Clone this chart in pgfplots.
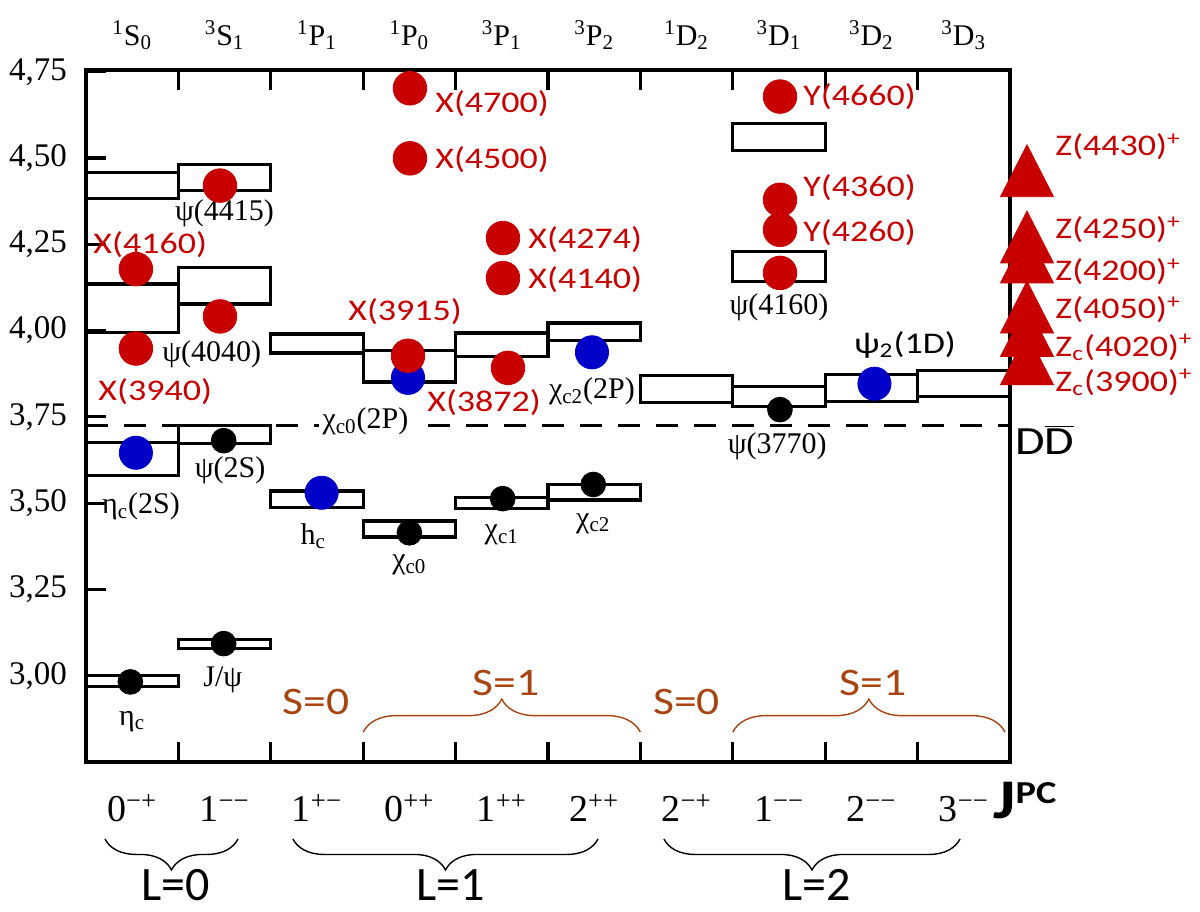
\documentclass[border=0pt]{standalone}
\usepackage{fontspec}
\setmainfont{Liberation Serif}
\newfontfamily\calib{Carlito}
\usepackage{graphicx}
\usepackage{pgfplots}
\pgfplotsset{compat=1.18}
\usetikzlibrary{decorations.pathreplacing}
\definecolor{myred}{RGB}{200,0,0}
\definecolor{myblue}{RGB}{0,0,200}
\definecolor{mybrown}{RGB}{168,68,16}
\newcommand{\fs}[1]{\fontsize{#1}{#1}\selectfont}
\newcommand{\redlab}[1]{\scalebox{1.2}[1]{\calib\fs{15}#1}}
\newcommand{\slab}[1]{\scalebox{1.17}[1]{\calib\fs{19.5}#1}}
\newcommand{\tl}[2]{\textsuperscript{#1}#2}
\tikzset{
  toplab/.style={font=\fs{15}, inner sep=0pt},
  botlab/.style={font=\fs{19}, inner sep=0pt, anchor=base},
  plab/.style={font=\fs{15}, inner sep=0pt},
  rlab/.style={inner sep=0pt, anchor=west, text=myred},
}
\begin{document}
\begin{tikzpicture}
\begin{axis}[
  scale only axis, width=462pt, height=346pt,
  xmin=0, xmax=10, ymin=2.75, ymax=4.755,
  clip=false,
  axis line style={line width=1.6pt},
  every tick/.style={black, line width=1.6pt},
  major tick length=10pt,
  xtick={1,2,3,4,5,6,7,8,9}, xticklabels={},
  ytick={3,3.25,3.5,3.75,4,4.25,4.5,4.75},
  yticklabels={{3,00},{3,25},{3,50},{3,75},{4,00},{4,25},{4,50},{4,75}},
  ytick pos=left,
  yticklabel style={font=\fs{16.5}, xshift=-6pt},
  boxst/.style={black, line width=1.6pt, line join=miter, mark=none},
]
% threshold D Dbar
\addplot[black, line width=1.5pt, dash pattern=on 11pt off 8pt, mark=none] coordinates {(0,3.724) (10,3.724)};
% level boxes
\addplot[boxst] coordinates {(0,2.969) (1,2.969) (1,3.000) (0,3.000)} -- cycle;
\addplot[boxst] coordinates {(0,3.580) (1,3.580) (1,3.675) (0,3.675)} -- cycle;
\addplot[boxst] coordinates {(0,3.995) (1,3.995) (1,4.135) (0,4.135)} -- cycle;
\addplot[boxst] coordinates {(0,4.382) (1,4.382) (1,4.459) (0,4.459)} -- cycle;
\addplot[boxst] coordinates {(1,3.079) (2,3.079) (2,3.106) (1,3.106)} -- cycle;
\addplot[boxst] coordinates {(1,3.672) (2,3.672) (2,3.726) (1,3.726)} -- cycle;
\addplot[boxst] coordinates {(1,4.077) (2,4.077) (2,4.183) (1,4.183)} -- cycle;
\addplot[boxst] coordinates {(1,4.405) (2,4.405) (2,4.482) (1,4.482)} -- cycle;
\addplot[boxst] coordinates {(2,3.487) (3,3.487) (3,3.535) (2,3.535)} -- cycle;
\addplot[boxst] coordinates {(2,3.935) (3,3.935) (3,3.990) (2,3.990)} -- cycle;
\addplot[boxst] coordinates {(3,3.402) (4,3.402) (4,3.448) (3,3.448)} -- cycle;
\addplot[boxst] coordinates {(3,3.851) (4,3.851) (4,3.942) (3,3.942)} -- cycle;
\addplot[boxst] coordinates {(4,3.484) (5,3.484) (5,3.516) (4,3.516)} -- cycle;
\addplot[boxst] coordinates {(4,3.924) (5,3.924) (5,3.993) (4,3.993)} -- cycle;
\addplot[boxst] coordinates {(5,3.509) (6,3.509) (6,3.554) (5,3.554)} -- cycle;
\addplot[boxst] coordinates {(5,3.971) (6,3.971) (6,4.022) (5,4.022)} -- cycle;
\addplot[boxst] coordinates {(6,3.792) (7,3.792) (7,3.870) (6,3.870)} -- cycle;
\addplot[boxst] coordinates {(7,3.781) (8,3.781) (8,3.839) (7,3.839)} -- cycle;
\addplot[boxst] coordinates {(7,4.142) (8,4.142) (8,4.229) (7,4.229)} -- cycle;
\addplot[boxst] coordinates {(7,4.521) (8,4.521) (8,4.601) (7,4.601)} -- cycle;
\addplot[boxst] coordinates {(8,3.795) (9,3.795) (9,3.872) (8,3.872)} -- cycle;
\addplot[boxst] coordinates {(9,3.808) (10,3.808) (10,3.885) (9,3.885)} -- cycle;
% black dots (established states)
\addplot[only marks, mark=*, black, mark size=6.2pt] coordinates {
 (0.48,2.982) (1.49,3.093) (1.49,3.681) (3.50,3.414) (4.51,3.513) (5.49,3.554) (7.51,3.771)};
% blue dots
\addplot[only marks, mark=*, color=myblue, mark size=8.3pt] coordinates {
 (0.54,3.646) (2.55,3.530) (3.485,3.863) (5.476,3.937) (8.533,3.846)};
% red dots
\addplot[only marks, mark=*, color=myred, mark size=8.4pt] coordinates {
 (0.54,4.178) (0.54,3.948) (1.45,4.420) (1.45,4.041) (3.506,4.702) (3.506,4.499)
 (3.485,3.927) (4.513,4.268) (4.513,4.152) (4.567,3.892)
 (7.511,4.678) (7.511,4.379) (7.511,4.292) (7.511,4.167)};
% red triangles (charged Z states)
\addplot[only marks, mark=triangle*, color=myred, mark size=15.3pt, mark options={yscale=1.13}] coordinates {
 (10.184,4.438) (10.184,4.246) (10.184,4.188) (10.184,4.043) (10.184,3.975) (10.184,3.893)};

% top spectroscopic labels
\node[toplab] at (axis cs:0.5,4.856) {\tl{1}{S}\textsubscript{0}};
\node[toplab] at (axis cs:1.5,4.856) {\tl{3}{S}\textsubscript{1}};
\node[toplab] at (axis cs:2.5,4.856) {\tl{1}{P}\textsubscript{1}};
\node[toplab] at (axis cs:3.5,4.856) {\tl{1}{P}\textsubscript{0}};
\node[toplab] at (axis cs:4.5,4.856) {\tl{3}{P}\textsubscript{1}};
\node[toplab] at (axis cs:5.5,4.856) {\tl{3}{P}\textsubscript{2}};
\node[toplab] at (axis cs:6.5,4.856) {\tl{1}{D}\textsubscript{2}};
\node[toplab] at (axis cs:7.5,4.856) {\tl{3}{D}\textsubscript{1}};
\node[toplab] at (axis cs:8.5,4.856) {\tl{3}{D}\textsubscript{2}};
\node[toplab] at (axis cs:9.5,4.856) {\tl{3}{D}\textsubscript{3}};
% bottom J^PC labels
\node[botlab] at (axis cs:0.5,2.577) {0\textsuperscript{−+}};
\node[botlab] at (axis cs:1.5,2.577) {1\textsuperscript{−−}};
\node[botlab] at (axis cs:2.5,2.577) {1\textsuperscript{+−}};
\node[botlab] at (axis cs:3.5,2.577) {0\textsuperscript{++}};
\node[botlab] at (axis cs:4.5,2.577) {1\textsuperscript{++}};
\node[botlab] at (axis cs:5.5,2.577) {2\textsuperscript{++}};
\node[botlab] at (axis cs:6.5,2.577) {2\textsuperscript{−+}};
\node[botlab] at (axis cs:7.5,2.577) {1\textsuperscript{−−}};
\node[botlab] at (axis cs:8.5,2.577) {2\textsuperscript{−−}};
\node[botlab] at (axis cs:9.5,2.577) {3\textsuperscript{−−}};
\node[inner sep=0pt, anchor=base west] at (axis cs:9.816,2.585)
  {\scalebox{1.2}[1]{\calib\bfseries\fs{28}J\raisebox{7.5pt}{\fs{16}PC}}};

% black particle labels
\node[plab] at (axis cs:0.50,2.868) {η\textsubscript{c}};
\node[plab] at (axis cs:1.48,2.987) {J/ψ};
\node[plab] at (axis cs:0.595,3.490) {η\textsubscript{c}(2S)};
\node[plab] at (axis cs:1.56,3.595) {ψ(2S)};
\node[plab] at (axis cs:2.46,3.404) {h\textsubscript{c}};
\node[plab] at (axis cs:3.50,3.320) {χ\textsubscript{c0}};
\node[plab] at (axis cs:4.50,3.407) {χ\textsubscript{c1}};
\node[plab] at (axis cs:5.49,3.441) {χ\textsubscript{c2}};
\node[plab] at (axis cs:1.50,4.341) {ψ(4415)};
\node[plab] at (axis cs:1.36,3.930) {ψ(4040)};
\node[plab] at (axis cs:7.50,4.066) {ψ(4160)};
\node[plab] at (axis cs:7.48,3.664) {ψ(3770)};
\node[font=\fs{15}, inner sep=2pt, fill=white] at (axis cs:3.025,3.736) {χ\textsubscript{c0}(2P)};
\node[plab] at (axis cs:5.476,3.823) {χ\textsubscript{c2}(2P)};
\node[inner sep=0pt] at (axis cs:8.864,3.959) {\scalebox{1.2}[1]{\calib\fs{15}ψ\textsubscript{2}(1D)}};

% red labels
\node[rlab] at (axis cs:0.076,4.249) {\redlab{X(4160)}};
\node[rlab] at (axis cs:0.130,3.823) {\redlab{X(3940)}};
\node[rlab] at (axis cs:3.777,4.659) {\redlab{X(4700)}};
\node[rlab] at (axis cs:3.777,4.494) {\redlab{X(4500)}};
\node[rlab] at (axis cs:4.784,4.263) {\redlab{X(4274)}};
\node[rlab] at (axis cs:4.784,4.147) {\redlab{X(4140)}};
\node[rlab] at (axis cs:2.835,4.055) {\redlab{X(3915)}};
\node[rlab] at (axis cs:3.690,3.791) {\redlab{X(3872)}};
\node[rlab] at (axis cs:7.760,4.677) {\redlab{Y(4660)}};
\node[rlab] at (axis cs:7.760,4.413) {\redlab{Y(4360)}};
\node[rlab] at (axis cs:7.760,4.283) {\redlab{Y(4260)}};
\node[rlab] at (axis cs:10.487,4.532) {\redlab{Z(4430)\textsuperscript{+}}};
\node[rlab] at (axis cs:10.487,4.292) {\redlab{Z(4250)\textsuperscript{+}}};
\node[rlab] at (axis cs:10.487,4.170) {\redlab{Z(4200)\textsuperscript{+}}};
\node[rlab] at (axis cs:10.487,4.060) {\redlab{Z(4050)\textsuperscript{+}}};
\node[rlab] at (axis cs:10.487,3.951) {\redlab{Z\textsubscript{c}(4020)\textsuperscript{+}}};
\node[rlab] at (axis cs:10.487,3.849) {\redlab{Z\textsubscript{c}(3900)\textsuperscript{+}}};
\node[inner sep=0pt, anchor=west] at (axis cs:10.054,3.684)
  {\scalebox{1.2}[1]{\calib\fs{20}D$\overline{\hbox{D}}$}};

% S braces (brown)
\draw[mybrown, line width=0.7pt, decorate, decoration={brace, amplitude=16.5pt}]
  (axis cs:3.0,2.8365) -- (axis cs:6.0,2.8365);
\draw[mybrown, line width=0.7pt, decorate, decoration={brace, amplitude=16.5pt}]
  (axis cs:7.0,2.8365) -- (axis cs:9.946,2.8365);
\node[inner sep=0pt, text=mybrown] at (axis cs:2.49,2.923) {\slab{S=0}};
\node[inner sep=0pt, text=mybrown] at (axis cs:6.50,2.923) {\slab{S=0}};
\node[inner sep=0pt, text=mybrown] at (axis cs:4.545,2.978) {\slab{S=1}};
\node[inner sep=0pt, text=mybrown] at (axis cs:8.52,2.978) {\slab{S=1}};

% L braces (black)
\draw[black, line width=0.7pt, decorate, decoration={brace, amplitude=15.5pt, mirror}]
  (axis cs:0.2056,2.527) -- (axis cs:1.645,2.527);
\draw[black, line width=0.7pt, decorate, decoration={brace, amplitude=15.5pt, mirror}]
  (axis cs:2.240,2.527) -- (axis cs:5.541,2.527);
\draw[black, line width=0.7pt, decorate, decoration={brace, amplitude=15.5pt, mirror}]
  (axis cs:6.255,2.527) -- (axis cs:9.459,2.527);
\node[inner sep=0pt, font=\calib\fs{24}] at (axis cs:0.974,2.394) {L=0};
\node[inner sep=0pt, font=\calib\fs{24}] at (axis cs:3.95,2.394) {L=1};
\node[inner sep=0pt, font=\calib\fs{24}] at (axis cs:7.91,2.394) {L=2};
\end{axis}
\pgfresetboundingbox
\path ([xshift=-43pt,yshift=-75pt]current axis.south west) rectangle ([xshift=95pt,yshift=35pt]current axis.north east);
\end{tikzpicture}
\end{document}
